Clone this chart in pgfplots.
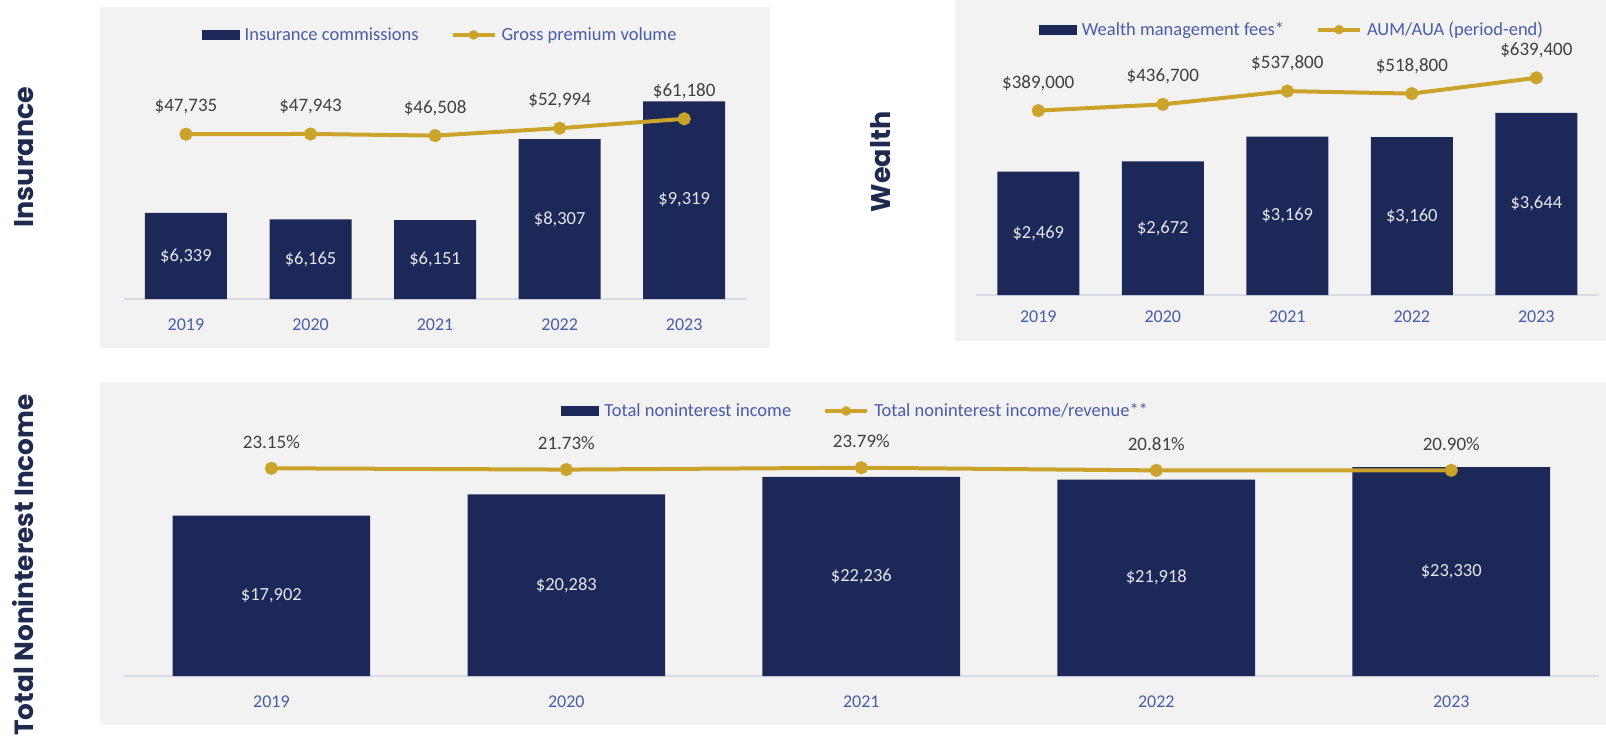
\documentclass[border=0pt]{standalone}
\usepackage{pgfplots}
\pgfplotsset{compat=1.18}
\usepackage{fontspec}
\setmainfont{Carlito}
\newfontfamily\titlefont{Poppins}

\definecolor{navy}{HTML}{1B2858}
\definecolor{gold}{HTML}{CBA32A}
\definecolor{panel}{HTML}{F2F2F2}
\definecolor{ticktext}{HTML}{4A5DA8}
\definecolor{valtext}{HTML}{404040}
\definecolor{bartext}{HTML}{E4E6EE}
\definecolor{axisgray}{HTML}{D8DBE6}
\definecolor{titlenavy}{HTML}{1E2A50}

\pgfplotsset{
  /pgf/number format/assume math mode=true,
  /pgf/number format/1000 sep={,},
  panel/.style={
    scale only axis, anchor=south west, clip=false,
    xmin=-0.5, xmax=4.5,
    xtick={0,...,4}, xticklabels={2019,2020,2021,2022,2023},
    major tick length=0pt,
    axis y line=none, axis x line*=bottom,
    x axis line style={draw=axisgray, line width=1.2pt, -},
    xticklabel style={text=ticktext, font=\fontsize{18}{20}\selectfont, inner sep=0pt, anchor=north},
    legend columns=2,
    legend style={draw=none, fill=none, anchor=center, text=ticktext,
      font=\fontsize{18.5}{20}\selectfont,
      /tikz/every odd column/.append style={column sep=3pt},
      /tikz/every even column/.append style={column sep=30pt},
      nodes={inner sep=2pt}},
  },
  lineover/.style={
    scale only axis, anchor=south west, clip=false, hide axis,
    xmin=-0.5, xmax=4.5,
  },
  barimg/.style={legend image code/.code={\fill[navy] (0pt,-5pt) rectangle (38pt,5pt);}},
  lineimg/.style={legend image code/.code={\draw[gold,line width=4pt] (0pt,0pt) -- (42pt,0pt); \fill[gold] (21pt,0pt) circle (4.5pt);}},
  goldline/.style={gold, line width=4pt, mark=*, mark size=4.5pt, mark options={fill=gold, draw=gold},
    nodes near coords style={text=valtext, anchor=south, inner sep=0pt, yshift=18pt,
      font=\fontsize{19}{20}\selectfont}},
  barlabels/.style={
    visualization depends on={rawy/1000 \as \rawk},
    nodes near coords={\$\pgfmathprintnumber[fixed,precision=0]{\pgfplotspointmeta}},
    nodes near coords style={text=bartext, anchor=center, font=\fontsize{18.5}{20}\selectfont,
      yshift={#1}}},
}

\begin{document}
\begin{tikzpicture}
\path[use as bounding box] (0pt,0pt) rectangle (1606pt,-741pt);
\fill[panel] (100pt,-7pt) rectangle (770pt,-348pt);
\fill[panel] (955pt,0pt) rectangle (1606pt,-341pt);
\fill[panel] (100pt,-382pt) rectangle (1606pt,-725pt);

\tikzset{paneltitle/.style={rotate=90, text=titlenavy, font=\titlefont\bfseries\fontsize{27}{27}\selectfont}}
\node[paneltitle] at (24pt,-157pt) {Insurance};
\node[paneltitle] at (881pt,-162pt) {Wealth};
\node[paneltitle, font=\titlefont\bfseries\fontsize{26.3}{27}\selectfont] at (23pt,-565pt) {Total Noninterest Income};

% Insurance
\begin{axis}[panel, at={(123.7pt,-299pt)}, width=622.8pt, height=239pt,
  ymin=4043, ymax=10421,
  xticklabel style={yshift=-20pt},
  legend style={at={(axis description cs:0.508,1.105)}}]
\addplot[ybar, bar width=82pt, fill=navy, draw=none, barimg,
  barlabels={-(\rawk-4.043)*18.735}]
  coordinates {(0,6339) (1,6165) (2,6151) (3,8307) (4,9319)};
\addlegendentry{Insurance commissions}
\addlegendimage{lineimg}
\addlegendentry{Gross premium volume}
\end{axis}
\begin{axis}[lineover, at={(123.7pt,-299pt)}, width=622.8pt, height=239pt,
  ymin=-96447, ymax=112652]
\addplot[goldline, nodes near coords={\$\pgfmathprintnumber[fixed,precision=0]{\pgfplotspointmeta}}]
  coordinates {(0,47735) (1,47943) (2,46508) (3,52994) (4,61180)};
\end{axis}

% Wealth
\begin{axis}[panel, at={(976pt,-295pt)}, width=622.6pt, height=235pt,
  ymin=0, ymax=4700,
  xticklabel style={yshift=-16pt},
  legend style={at={(axis description cs:0.5075,1.129)}}]
\addplot[ybar, bar width=82pt, fill=navy, draw=none, barimg,
  barlabels={-\rawk*25}]
  coordinates {(0,2469) (1,2672) (2,3169) (3,3160) (4,3644)};
\addlegendentry{Wealth management fees*}
\addlegendimage{lineimg}
\addlegendentry{AUM/AUA (period-end)}
\end{axis}
\begin{axis}[lineover, at={(976pt,-295pt)}, width=622.6pt, height=235pt,
  ymin=-1019709, ymax=775555]
\addplot[goldline, nodes near coords={\$\pgfmathprintnumber[fixed,precision=0]{\pgfplotspointmeta}}]
  coordinates {(0,389000) (1,436700) (2,537800) (3,518800) (4,639400)};
\end{axis}

% Total noninterest income
\begin{axis}[panel, at={(123.9pt,-676pt)}, width=1474.9pt, height=236pt,
  ymin=0, ymax=26351,
  xticklabel style={yshift=-20pt},
  legend style={at={(axis description cs:0.4962,1.123)}}]
\addplot[ybar, bar width=197.7pt, fill=navy, draw=none, barimg,
  barlabels={-\rawk*4.478}]
  coordinates {(0,17902) (1,20283) (2,22236) (3,21918) (4,23330)};
\addlegendentry{Total noninterest income}
\addlegendimage{lineimg}
\addlegendentry{Total noninterest income/revenue**}
\end{axis}
\begin{axis}[lineover, at={(123.9pt,-676pt)}, width=1474.9pt, height=236pt,
  ymin=-207.6, ymax=54.6]
\addplot[goldline, nodes near coords={\pgfmathprintnumber[fixed,fixed zerofill,precision=2]{\pgfplotspointmeta}\%}]
  coordinates {(0,23.15) (1,21.73) (2,23.79) (3,20.81) (4,20.90)};
\end{axis}
\end{tikzpicture}
\end{document}
